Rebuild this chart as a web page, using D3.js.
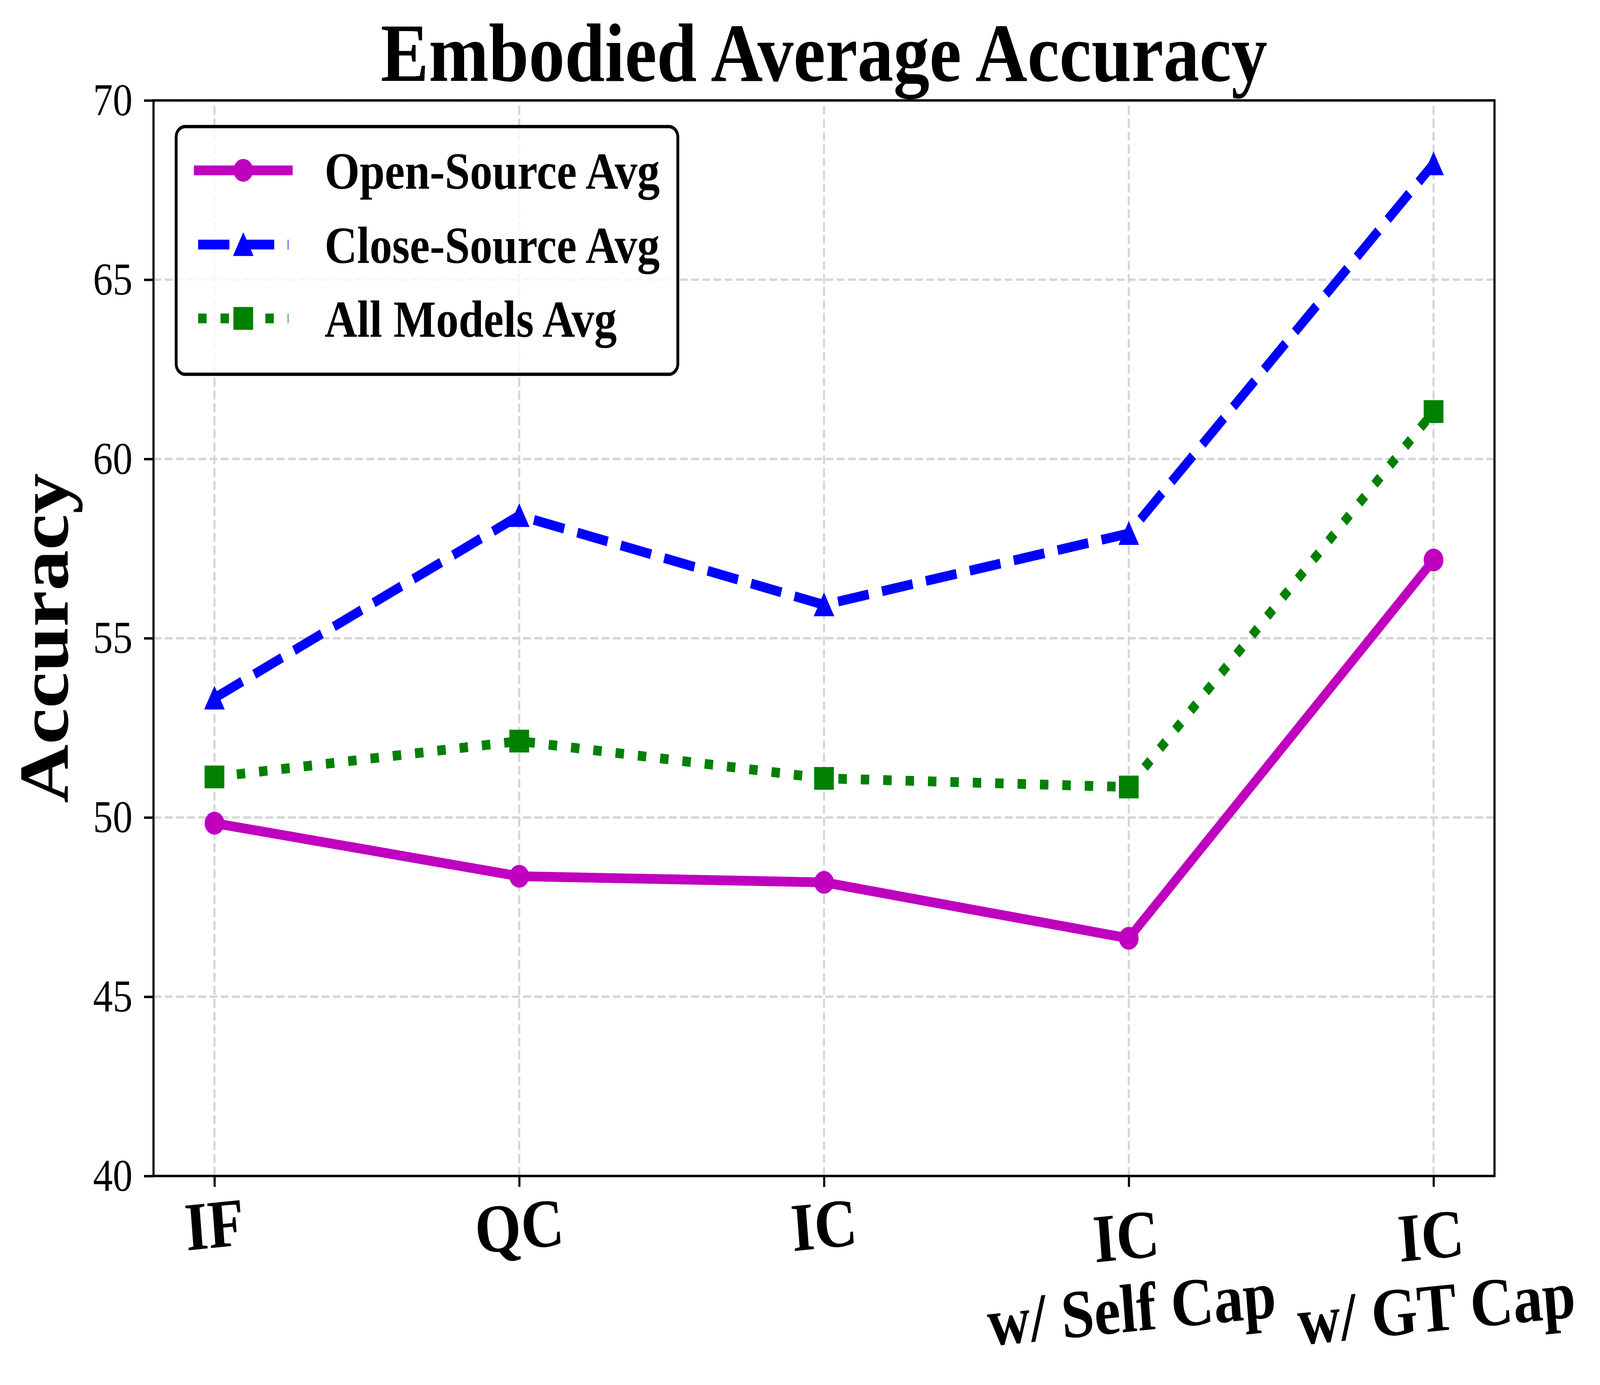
<!DOCTYPE html>
<html><head><meta charset="utf-8">
<script src="https://cdn.jsdelivr.net/npm/d3@7"></script>
<style>html,body{margin:0;padding:0;background:#fff;width:100%;height:100%;overflow:hidden;} svg{display:block;width:100vw;height:100vh;}</style>
</head><body>
<script>
// ---- data ----
const categories = ["IF", "QC", "IC", "IC\nw/ Self Cap", "IC\nw/ GT Cap"];
const openSource = [49.84, 48.36, 48.19, 46.63, 57.18];
const closeSource = [53.33, 58.42, 55.93, 57.92, 68.23];
const allModels = [51.13, 52.13, 51.09, 50.85, 61.32];
const yTicks = [40, 45, 50, 55, 60, 65, 70];
const seriesNames = ["Open-Source Avg", "Close-Source Avg", "All Models Avg"];
const titleText = "Embodied Average Accuracy";
const yLabelText = "Accuracy";

// ---- layout (designed in a 4732x3545 frame, stretched to fill the viewport) ----
const W = 4732, H = 3545;
const M = {l: 454, r: 4420, t: 257, b: 3010};
const FONT = '"Liberation Serif","Times New Roman",Times,serif';
const pt = 300 / 72;
const LW = 6 * pt;

const svg = d3.select("body").append("svg")
  .attr("viewBox", `0 0 ${W} ${H}`).attr("preserveAspectRatio", "none");
svg.append("rect").attr("width", W).attr("height", H).attr("fill", "#fff");

const idx = d3.range(categories.length);
const x = d3.scalePoint().domain(idx).range([M.l, M.r]).padding(0.2);
const y = d3.scaleLinear().domain([40, 70]).range([M.b, M.t]);

// ---- grid ----
const gridStyle = sel => sel.attr("stroke", "#d6d6d6").attr("stroke-width", 1.5 * pt)
  .attr("stroke-dasharray", `${3.7 * 1.5 * pt} ${1.6 * 1.5 * pt}`).attr("fill", "none");
const grid = svg.append("g");
grid.selectAll(".gx").data(idx).join("line")
  .attr("x1", d => x(d)).attr("x2", d => x(d)).attr("y1", M.b).attr("y2", M.t).call(gridStyle);
grid.selectAll(".gy").data(yTicks).join("line")
  .attr("x1", M.l).attr("x2", M.r).attr("y1", d => y(d)).attr("y2", d => y(d)).call(gridStyle);

// ---- series ----
const series = [
  {name: seriesNames[0], values: openSource, color: "#bf00bf", dash: null, cap: "square", marker: "circle"},
  {name: seriesNames[1], values: closeSource, color: "#0000ff", dash: `${3.7 * LW} ${1.6 * LW}`, cap: "butt", marker: "triangle"},
  {name: seriesNames[2], values: allModels, color: "#008000", dash: `${1 * LW} ${1.65 * LW}`, cap: "butt", marker: "square"}
];
const MS = 13 * pt, MEW = 1 * pt;
const symbolPath = (type) => {
  const h = MS / 2;
  if (type === "circle") return d3.symbol(d3.symbolCircle, Math.PI * h * h)();
  if (type === "square") return `M${-h},${-h}H${h}V${h}H${-h}Z`;
  return `M0,${-h}L${h},${h}L${-h},${h}Z`;
};
const line = d3.line().x((d, i) => x(i)).y(d => y(d));
series.forEach(s => {
  const g = svg.append("g");
  g.append("path").attr("d", line(s.values)).attr("fill", "none")
    .attr("stroke", s.color).attr("stroke-width", LW)
    .attr("stroke-linecap", s.cap).attr("stroke-linejoin", "round")
    .attr("stroke-dasharray", s.dash);
  g.selectAll(".m").data(s.values).join("path")
    .attr("d", symbolPath(s.marker))
    .attr("transform", (d, i) => `translate(${x(i)},${y(d)})`)
    .attr("fill", s.color).attr("stroke", s.color).attr("stroke-width", MEW)
    .attr("stroke-linejoin", "miter");
});

// ---- axes ----
const yAxis = svg.append("g").attr("transform", `translate(${M.l},0)`)
  .call(d3.axisLeft(y).tickValues(yTicks).tickSize(28).tickPadding(34).tickFormat(d3.format("d")));
const xAxis = svg.append("g").attr("transform", `translate(0,${M.b})`)
  .call(d3.axisBottom(x).tickSize(28).tickFormat(""));
[yAxis, xAxis].forEach(a => {
  a.select(".domain").remove();
  a.selectAll(".tick line").attr("stroke", "#000").attr("stroke-width", 1.5 * pt);
});
yAxis.selectAll(".tick text").attr("fill", "#000")
  .style("font-family", FONT).style("font-size", (28 * pt) + "px");

// spines
svg.append("rect").attr("x", M.l).attr("y", M.t).attr("width", M.r - M.l).attr("height", M.b - M.t)
  .attr("fill", "none").attr("stroke", "#000").attr("stroke-width", 1.5 * pt);

// x tick labels (bold, rotated 5deg, multi-line centered)
const XFS = 42 * pt;
const ang = 5 * Math.PI / 180;
categories.forEach((c, i) => {
  const g = svg.append("g");
  const t = g.append("text").attr("text-anchor", "middle").attr("fill", "#000")
    .style("font-family", FONT).style("font-weight", "bold").style("font-size", XFS + "px");
  c.split("\n").forEach((ln, j) => t.append("tspan").attr("x", 0).attr("y", j * 1.06 * XFS).text(ln));
  const bb = t.node().getBBox();
  const cx = bb.x + bb.width / 2, cy = bb.y + bb.height / 2;
  const halfH = bb.height / 2 * Math.cos(ang) + bb.width / 2 * Math.sin(ang);
  g.attr("transform", `translate(${x(i)},${3030 + halfH}) rotate(-5) translate(${-cx},${-cy})`);
});

// title
svg.append("text").attr("x", (M.l + M.r) / 2).attr("y", 207).attr("text-anchor", "middle")
  .style("font-family", FONT).style("font-weight", "bold").style("font-size", "213px").text(titleText);

// y label
svg.append("text").attr("transform", `translate(200,${(M.t + M.b) / 2}) rotate(-90)`)
  .attr("text-anchor", "middle")
  .style("font-family", FONT).style("font-weight", "bold").style("font-size", (50 * pt) + "px").text(yLabelText);

// ---- legend ----
const LFS = 32 * pt;
const leg = svg.append("g");
const legBox = leg.append("rect").attr("x", 521).attr("y", 324).attr("height", 634)
  .attr("rx", 0.2 * LFS).attr("ry", 0.2 * LFS)
  .attr("fill", "#fff").attr("fill-opacity", 0.8).attr("stroke", "#000").attr("stroke-width", 2 * pt);
const rowY = [436, 626, 815];
const hx0 = 586, hx1 = 853, textX = 960;
let maxW = 0;
series.forEach((s, k) => {
  const cy = rowY[k];
  leg.append("line").attr("x1", hx0).attr("x2", hx1).attr("y1", cy).attr("y2", cy)
    .attr("stroke", s.color).attr("stroke-width", LW).attr("stroke-linecap", s.cap)
    .attr("stroke-dasharray", s.dash);
  leg.append("path").attr("d", symbolPath(s.marker)).attr("transform", `translate(${(hx0 + hx1) / 2},${cy})`)
    .attr("fill", s.color).attr("stroke", s.color).attr("stroke-width", MEW);
  const tx = leg.append("text").attr("x", textX).attr("y", cy + 47).attr("fill", "#000")
    .style("font-family", FONT).style("font-weight", "bold").style("font-size", LFS + "px").text(s.name);
  maxW = Math.max(maxW, tx.node().getComputedTextLength());
});
legBox.attr("width", textX + maxW + 0.4 * LFS - 521);
</script>
</body></html>
